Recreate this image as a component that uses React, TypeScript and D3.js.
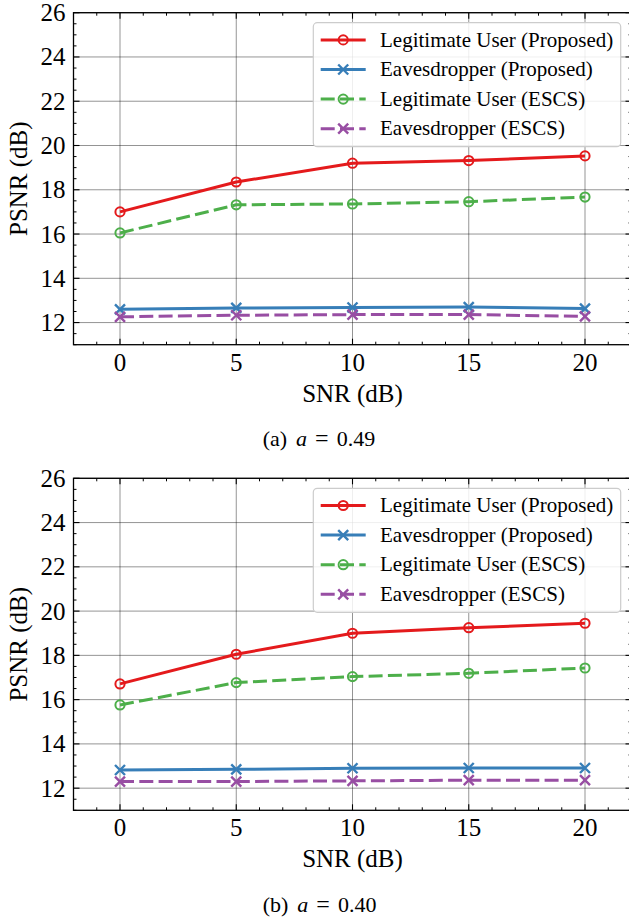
import React from "react";
import * as d3 from "d3";

// ---------- data ----------
const snr = [0, 5, 10, 15, 20];
const xTicks = [0, 5, 10, 15, 20];
const yTicks = [12, 14, 16, 18, 20, 22, 24, 26];
const seriesNames = [
  "Legitimate User (Proposed)",
  "Eavesdropper (Proposed)",
  "Legitimate User (ESCS)",
  "Eavesdropper (ESCS)",
];
const seriesColors = ["#e41a1c", "#377eb8", "#4daf4a", "#984ea3"];
const seriesMarkers = ["o", "x", "o", "x"];
const seriesDashed = [false, false, true, true];

// (a) a = 0.49
const a049LegitProposed = [17.0, 18.35, 19.2, 19.32, 19.53];
const a049EveProposed = [12.6, 12.66, 12.68, 12.7, 12.63];
const a049LegitESCS = [16.05, 17.32, 17.36, 17.46, 17.67];
const a049EveESCS = [12.26, 12.33, 12.36, 12.36, 12.28];

// (b) a = 0.40
const a040LegitProposed = [16.71, 18.05, 19.0, 19.25, 19.45];
const a040EveProposed = [12.82, 12.85, 12.9, 12.91, 12.91];
const a040LegitESCS = [15.76, 16.77, 17.04, 17.19, 17.43];
const a040EveESCS = [12.3, 12.3, 12.33, 12.36, 12.36];

const captions = [
  { label: "(a)", value: "0.49" },
  { label: "(b)", value: "0.40" },
];

// ---------- layout ----------
const W = 629;
const H = 918;
const FONT = '"Liberation Serif", "Times New Roman", Times, "DejaVu Serif", serif';
const LEFT = 73.5;
const RIGHT = 631.5;
const PH = 332;
const PANEL_TOPS = [12.7, 478.3];
const LW = 3;
const DASH = "14,5.3";

function Marker({ type, x, y, color }: { type: string; x: number; y: number; color: string }) {
  if (type === "o") {
    return <circle cx={x} cy={y} r={4.6} fill="none" stroke={color} strokeWidth={2} />;
  }
  const s = 5;
  return (
    <path
      d={`M${x - s},${y - s}L${x + s},${y + s}M${x - s},${y + s}L${x + s},${y - s}`}
      stroke={color}
      strokeWidth={2.4}
      fill="none"
    />
  );
}

const txt = { fontFamily: FONT } as React.CSSProperties;

function Panel({ top, data, caption }: { top: number; data: number[][]; caption: { label: string; value: string } }) {
  const x = d3.scaleLinear().domain([-2, 22]).range([LEFT, RIGHT]);
  const y = d3.scaleLinear().domain([11, 26]).range([top + PH, top]);
  const bottom = top + PH;
  const line = d3
    .line<number>()
    .x((_, i) => x(snr[i]))
    .y((d) => y(d));

  const xMinor = d3.range(-2, 23, 1).filter((v) => !xTicks.includes(v));
  const yMinor = d3.range(11, 26.01, 0.5).filter((v) => !yTicks.includes(v));

  const legLeft = 313.3;
  const legW = 307.4;
  const legTop = top + 10;
  const legH = 124;
  const rowY = (i: number) => legTop + 17.2 + i * 29.6;

  const cx = (LEFT + RIGHT) / 2;
  const cy = (top + bottom) / 2;

  return (
    <g>
      {/* grid */}
      {xTicks.map((t) => (
        <line key={"gx" + t} x1={x(t)} x2={x(t)} y1={top} y2={bottom} stroke="#000" strokeOpacity={0.42} strokeWidth={1} />
      ))}
      {yTicks.map((t) => (
        <line key={"gy" + t} x1={LEFT} x2={RIGHT} y1={y(t)} y2={y(t)} stroke="#000" strokeOpacity={0.42} strokeWidth={1} />
      ))}

      {/* series */}
      {data.map((vals, si) => (
        <g key={"s" + si}>
          <path
            d={line(vals) || ""}
            fill="none"
            stroke={seriesColors[si]}
            strokeWidth={LW}
            strokeDasharray={seriesDashed[si] ? DASH : undefined}
            strokeLinejoin="round"
          />
          {vals.map((v, i) => (
            <Marker key={i} type={seriesMarkers[si]} x={x(snr[i])} y={y(v)} color={seriesColors[si]} />
          ))}
        </g>
      ))}

      {/* ticks */}
      {xTicks.map((t) => (
        <g key={"xt" + t}>
          <line x1={x(t)} x2={x(t)} y1={bottom} y2={bottom - 6} stroke="#000" strokeWidth={1.1} />
          <line x1={x(t)} x2={x(t)} y1={top} y2={top + 6} stroke="#000" strokeWidth={1.1} />
          <text x={x(t)} y={bottom + 26} textAnchor="middle" fontSize={25} style={txt} fill="#000">
            {t}
          </text>
        </g>
      ))}
      {xMinor.map((t) => (
        <g key={"xm" + t}>
          <line x1={x(t)} x2={x(t)} y1={bottom} y2={bottom - 3} stroke="#000" strokeWidth={1} />
          <line x1={x(t)} x2={x(t)} y1={top} y2={top + 3} stroke="#000" strokeWidth={1} />
        </g>
      ))}
      {yTicks.map((t) => (
        <g key={"yt" + t}>
          <line x1={LEFT} x2={LEFT + 6} y1={y(t)} y2={y(t)} stroke="#000" strokeWidth={1.1} />
          <line x1={RIGHT} x2={RIGHT - 6} y1={y(t)} y2={y(t)} stroke="#000" strokeWidth={1.1} />
          <text x={LEFT - 8} y={y(t)} dy="0.34em" textAnchor="end" fontSize={25} style={txt} fill="#000">
            {t}
          </text>
        </g>
      ))}
      {yMinor.map((t) => (
        <g key={"ym" + t}>
          <line x1={LEFT} x2={LEFT + 3} y1={y(t)} y2={y(t)} stroke="#000" strokeWidth={1} />
          <line x1={RIGHT} x2={RIGHT - 3} y1={y(t)} y2={y(t)} stroke="#000" strokeWidth={1} />
        </g>
      ))}

      {/* spines */}
      <rect x={LEFT} y={top} width={RIGHT - LEFT} height={PH} fill="none" stroke="#000" strokeWidth={1.3} />

      {/* legend */}
      <rect x={legLeft} y={legTop} width={legW} height={legH} rx={4} ry={4} fill="#fff" fillOpacity={0.85} stroke="#cccccc" strokeWidth={1.2} />
      {seriesNames.map((name, si) => {
        const ry = rowY(si);
        const hx0 = legLeft + 7.4;
        const hx1 = hx0 + 45;
        return (
          <g key={"lg" + si}>
            <line
              x1={hx0}
              x2={hx1}
              y1={ry}
              y2={ry}
              stroke={seriesColors[si]}
              strokeWidth={LW}
              strokeDasharray={seriesDashed[si] ? DASH : undefined}
            />
            <Marker type={seriesMarkers[si]} x={(hx0 + hx1) / 2} y={ry} color={seriesColors[si]} />
            <text x={380} y={ry} dy="0.32em" fontSize={21} style={txt} fill="#000">
              {name}
            </text>
          </g>
        );
      })}

      {/* axis labels */}
      <text x={cx} y={bottom + 57} textAnchor="middle" fontSize={25} style={txt} fill="#000">
        SNR (dB)
      </text>
      <text
        transform={`translate(27,${cy}) rotate(-90)`}
        textAnchor="middle"
        fontSize={25}
        style={txt}
        fill="#000"
      >
        PSNR (dB)
      </text>

      {/* caption */}
      <text x={262.7} y={bottom + 101.5} fontSize={22} style={txt} fill="#000">
        <tspan>{caption.label}</tspan>
        <tspan dx={9} fontStyle="italic">a</tspan>
        <tspan dx={8} fontSize={24}>=</tspan>
        <tspan dx={8}>{caption.value}</tspan>
      </text>
    </g>
  );
}

export default function App() {
  const panels = [
    [a049LegitProposed, a049EveProposed, a049LegitESCS, a049EveESCS],
    [a040LegitProposed, a040EveProposed, a040LegitESCS, a040EveESCS],
  ];
  return (
    <svg
      width={W}
      height={H}
      viewBox={`0 0 ${W} ${H}`}
      style={{ position: "absolute", left: 0, top: 0, background: "#fff", fontFamily: FONT }}
    >
      <rect x={0} y={0} width={W} height={H} fill="#fff" />
      {panels.map((p, i) => (
        <Panel key={i} top={PANEL_TOPS[i]} data={p} caption={captions[i]} />
      ))}
    </svg>
  );
}
